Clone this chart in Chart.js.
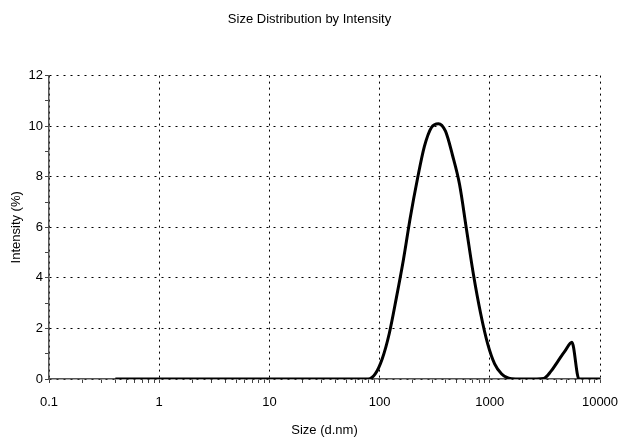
<!DOCTYPE html>
<html lang="en">
<head>
    <meta charset="UTF-8">
    <title>Size Distribution by Intensity</title>
    <script src="https://cdn.jsdelivr.net/npm/chart.js"></script>
    <style>
        html, body { margin: 0; padding: 0; background: #fff; }
        #wrap { width: 619px; height: 438px; }
    </style>
</head>
<body>
    <div id="wrap"><canvas id="sizeChart" width="619" height="438"></canvas></div>

    <script>
        // size bins (d.nm)
        const sizes = [0.4, 0.4632, 0.5365, 0.6213, 0.7195, 0.8332, 0.9649, 1.117, 1.294, 1.499,
            1.736, 2.01, 2.328, 2.696, 3.122, 3.615, 4.187, 4.849, 5.615, 6.503,
            7.531, 8.721, 10.1, 11.7, 13.54, 15.69, 18.17, 21.04, 24.36, 28.21,
            32.67, 37.84, 43.82, 50.75, 58.77, 68.06, 78.82, 91.28, 105.7, 122.4,
            141.8, 164.2, 190.1, 220.2, 255.0, 295.3, 342.0, 396.1, 458.7, 531.2,
            615.1, 712.4, 825.0, 955.4, 1106, 1281, 1484, 1718, 1990, 2305,
            2669, 3091, 3580, 4145, 4801, 5560, 6439, 7456, 8635, 10000];
        // intensity (%)
        const intensity = [0, 0, 0, 0, 0, 0, 0, 0, 0, 0,
            0, 0, 0, 0, 0, 0, 0, 0, 0, 0,
            0, 0, 0, 0, 0, 0, 0, 0, 0, 0,
            0, 0, 0, 0, 0, 0, 0, 0.2, 0.8, 1.8,
            3.2, 4.7, 6.4, 7.9, 9.2, 9.95, 10.1, 9.8, 8.85, 7.7,
            5.9, 4.1, 2.6, 1.4, 0.6, 0.2, 0.03, 0, 0, 0,
            0, 0.02, 0.3, 0.7, 1.1, 1.45, 0, 0, 0, 0];

        const xTickValues = [0.1, 0.2, 0.3, 0.4, 0.5, 0.6, 0.7, 0.8, 0.9,
            1, 2, 3, 4, 5, 6, 7, 8, 9,
            10, 20, 30, 40, 50, 60, 70, 80, 90,
            100, 200, 300, 400, 500, 600, 700, 800, 900,
            1000, 2000, 3000, 4000, 5000, 6000, 7000, 8000, 9000, 10000];
        const xMajorLabels = ['0.1', '1', '10', '100', '1000', '10000'];
        const yTickValues = [0, 1, 2, 3, 4, 5, 6, 7, 8, 9, 10, 11, 12];

        const FONT = "'Liberation Sans', Arial, sans-serif";
        const isMajorX = v => Math.abs(Math.log10(v) - Math.round(Math.log10(v))) < 1e-9;

        const points = sizes.map((s, i) => ({ x: s, y: intensity[i] }));

        const ctx = document.getElementById('sizeChart').getContext('2d');
        new Chart(ctx, {
            type: 'line',
            data: {
                datasets: [{
                    label: 'Intensity',
                    data: points,
                    borderColor: '#000',
                    borderWidth: 3,
                    pointRadius: 0,
                    cubicInterpolationMode: 'monotone',
                    fill: false
                }]
            },
            options: {
                responsive: false,
                animation: false,
                devicePixelRatio: 1,
                layout: { padding: { left: 0, right: 0, top: 0, bottom: 0 } },
                plugins: {
                    legend: { display: false },
                    tooltip: { enabled: false },
                    title: {
                        display: true,
                        text: 'Size Distribution by Intensity',
                        color: '#000',
                        font: { family: FONT, size: 13, weight: 'normal' },
                        padding: { top: 12, bottom: 48 }
                    }
                },
                scales: {
                    x: {
                        type: 'logarithmic',
                        min: 0.1,
                        max: 10000,
                        afterBuildTicks: axis => {
                            axis.ticks = xTickValues.map(v => ({ value: v, major: isMajorX(v) }));
                        },
                        afterFit: axis => {
                            axis.height = 59;
                            axis.paddingLeft = 0;
                            axis.paddingRight = 19;
                        },
                        ticks: {
                            autoSkip: false,
                            maxRotation: 0,
                            padding: 12,
                            color: '#000',
                            font: { family: FONT, size: 13 },
                            callback: v => isMajorX(v) ? xMajorLabels[Math.round(Math.log10(v)) + 1] : ''
                        },
                        grid: {
                            color: c => (c.tick && isMajorX(c.tick.value)) ? '#000' : 'rgba(0,0,0,0)',
                            tickColor: '#444',
                            tickLength: 4,
                            lineWidth: 1
                        },
                        border: { display: true, color: '#555', width: 1.5, dash: [2, 4] },
                        title: {
                            display: true,
                            text: 'Size (d.nm)',
                            color: '#000',
                            font: { family: FONT, size: 13 },
                            padding: { top: 0, bottom: 0 }
                        }
                    },
                    y: {
                        min: 0,
                        max: 12,
                        afterBuildTicks: axis => {
                            axis.ticks = yTickValues.map(v => ({ value: v }));
                        },
                        afterFit: axis => { axis.width = 49; },
                        ticks: {
                            padding: 2,
                            color: '#000',
                            font: { family: FONT, size: 13 },
                            callback: v => v % 2 === 0 ? String(v) : ''
                        },
                        grid: {
                            color: c => (c.tick && c.tick.value % 2 === 0) ? '#000' : 'rgba(0,0,0,0)',
                            tickColor: '#444',
                            tickLength: 4,
                            lineWidth: 1
                        },
                        border: { display: true, color: '#555', width: 1.5, dash: [2, 5] },
                        title: {
                            display: true,
                            text: 'Intensity (%)',
                            color: '#000',
                            font: { family: FONT, size: 13 },
                            padding: { top: 9, bottom: 0 }
                        }
                    }
                }
            }
        });
    </script>
</body>
</html>
